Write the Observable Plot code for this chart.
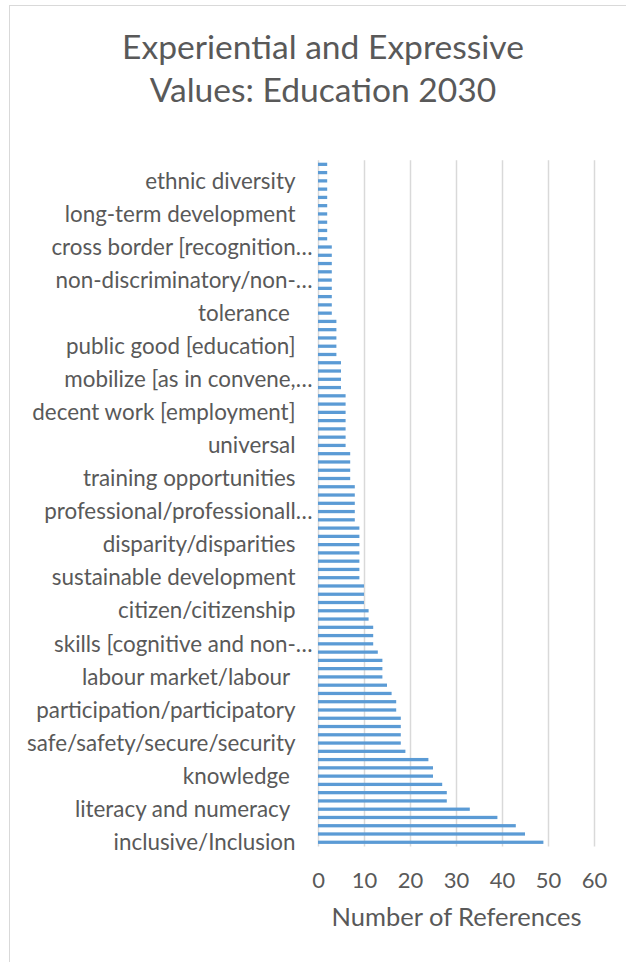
<!DOCTYPE html>
<html>
<head>
<meta charset="utf-8">
<script src="https://cdn.jsdelivr.net/npm/d3@7"></script>
<script src="https://cdn.jsdelivr.net/npm/@observablehq/plot@0.6"></script>
<style>
  body { margin: 0; background: #fff; }
  #wrap { position: relative; width: 626px; height: 962px; overflow: hidden; background: #fff; font-family: Lato, "Open Sans", sans-serif; }
  #frame { position: absolute; left: 9px; top: 5px; width: 800px; height: 1100px; border-top: 1.3px solid #d9d9d9; border-left: 1.3px solid #d9d9d9; }
  #title { position: absolute; left: 10px; width: 626px; top: 25px; text-align: center; font-size: 33.6px; line-height: 43px; color: #595959; }
  #chart { position: absolute; left: 0; top: 140px; }
  #chart svg text { white-space: pre; }
</style>
</head>
<body>
<div id="wrap">
  <div id="frame"></div>
  <div id="title">Experiential and Expressive<br>Values: Education 2030</div>
  <div id="chart"></div>
</div>
<script>
// Category labels shown on the axis (every 4th bar, from the bottom bar upward)
const labels = [
  "inclusive/Inclusion",
  "literacy and numeracy ",
  "knowledge ",
  "safe/safety/secure/security",
  "participation/participatory",
  "labour market/labour ",
  "skills [cognitive and non-…",
  "citizen/citizenship",
  "sustainable development",
  "disparity/disparities",
  "professional/professionall…",
  "training opportunities",
  "universal",
  "decent work [employment]",
  "mobilize [as in convene,…",
  "public good [education]",
  "tolerance ",
  "non-discriminatory/non-…",
  "cross border [recognition…",
  "long-term development",
  "ethnic diversity"
];
// Number of references per bar, from the bottom bar upward
const references = [
  49, 45, 43, 39, 33, 28, 28, 27, 25, 25, 24, 19,
  18, 18, 18, 18, 17, 17, 16, 15, 14, 14, 14, 13,
  12, 12, 12, 11, 11, 10, 10, 10,
  9, 9, 9, 9, 9, 9, 9,
  8, 8, 8, 8, 8,
  7, 7, 7, 7,
  6, 6, 6, 6, 6, 6, 6,
  5, 5, 5, 5,
  4, 4, 4, 4, 4,
  3, 3, 3, 3, 3, 3, 3, 3, 3,
  2, 2, 2, 2, 2, 2, 2, 2, 2, 2
];
const xTicks = [0, 10, 20, 30, 40, 50, 60];
const xTitle = "Number of References";

const n = references.length;
const rows = references.map((v, i) => ({i, v}));
const labelled = d3.range(0, n, 4).filter(i => labels[i / 4] !== undefined);
const ellipsisTicks = labelled.filter(i => labels[i / 4].endsWith("…"));
const plainTicks = labelled.filter(i => !labels[i / 4].endsWith("…"));
const fmt = i => labels[i / 4];

const chart = Plot.plot({
  width: 626,
  height: 822,
  marginLeft: 318,
  marginRight: 32,
  marginTop: 20.2,
  marginBottom: 115.6,
  style: {fontFamily: "Lato, 'Open Sans', sans-serif", color: "#595959", background: "transparent"},
  x: {domain: [0, 60]},
  y: {type: "band", domain: d3.range(n).reverse(), padding: 0, round: false},
  marks: [
    Plot.gridX(xTicks, {stroke: "#d9d9d9", strokeOpacity: 1, strokeWidth: 1.5}),
    Plot.barX(rows, {x: "v", y: "i", fill: "#5b9bd5", insetTop: 2.5, insetBottom: 2.5}),
    Plot.axisY(plainTicks, {tickSize: 0, tickPadding: 23, tickFormat: fmt, fontSize: 22.4, label: null}),
    Plot.axisY(ellipsisTicks, {tickSize: 0, tickPadding: 6, tickFormat: fmt, fontSize: 22.4, label: null}),
    Plot.axisX(xTicks, {tickSize: 0, tickPadding: 25, fontSize: 22, label: null}),
    Plot.text([xTitle], {text: d => d, frameAnchor: "bottom", lineAnchor: "bottom", dy: 78.6, fontSize: 25.5, fill: "#595959"})
  ]
});
document.getElementById("chart").appendChild(chart);
</script>
</body>
</html>
